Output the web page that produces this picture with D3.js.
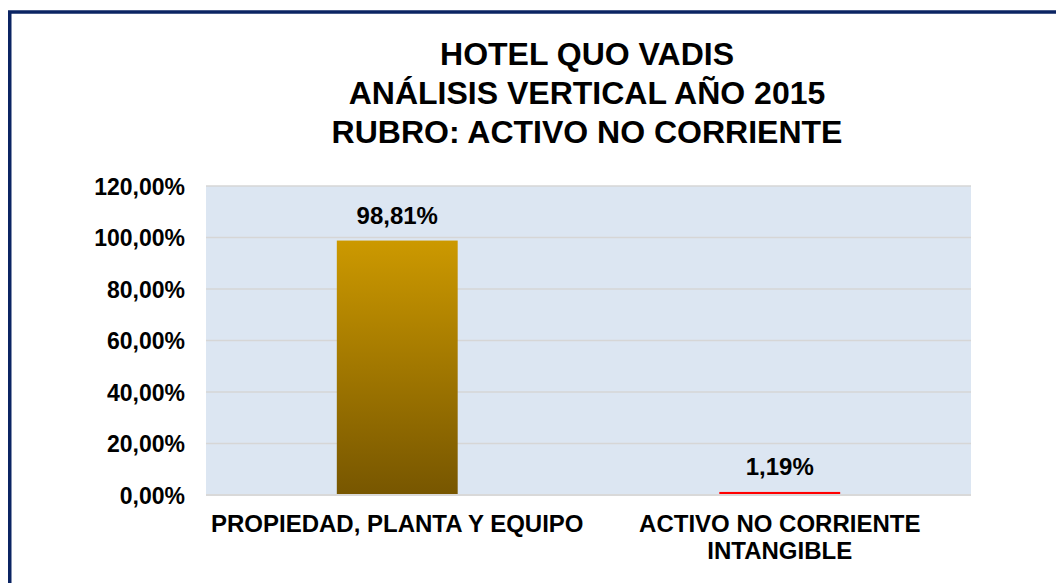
<!DOCTYPE html>
<html><head><meta charset="utf-8">
<script src="https://cdn.jsdelivr.net/npm/d3@7"></script>
<style>body{margin:0;background:#fff}svg{display:block}text{font-family:"Liberation Sans",Arial,sans-serif;font-weight:bold;fill:#000}</style>
</head><body><svg id="c" width="1056" height="583"></svg>
<script>
const titleLines = ["HOTEL QUO VADIS", "ANÁLISIS VERTICAL AÑO 2015", "RUBRO: ACTIVO NO CORRIENTE"];
const categories = ["PROPIEDAD, PLANTA Y EQUIPO", "ACTIVO NO CORRIENTE INTANGIBLE"];
const categoryLines = [["PROPIEDAD, PLANTA Y EQUIPO"], ["ACTIVO NO CORRIENTE", "INTANGIBLE"]];
const values = [98.81, 1.19];
const valueLabels = ["98,81%", "1,19%"];
const yTicks = [0, 20, 40, 60, 80, 100, 120];
const yTickLabels = ["0,00%", "20,00%", "40,00%", "60,00%", "80,00%", "100,00%", "120,00%"];

const svg = d3.select("#c");
const plot = {left: 206, right: 971, top: 186, bottom: 495};

// frame
svg.append("rect").attr("x", 9.75).attr("y", 12).attr("width", 1200).attr("height", 800)
  .attr("fill", "none").attr("stroke", "#0B2463").attr("stroke-width", 3.5);

// title
const t = svg.append("text").attr("text-anchor", "middle").style("font-size", "32px");
titleLines.forEach((l, i) => t.append("tspan").attr("x", 587).attr("y", 65 + i * 39).text(l));

const x = d3.scaleBand().domain(categories).range([plot.left, plot.right]).paddingInner(0).paddingOuter(0);
const y = d3.scaleLinear().domain([0, 120]).range([plot.bottom, plot.top]);
const barW = x.bandwidth() * 0.316;

svg.append("rect").attr("x", plot.left).attr("y", plot.top)
  .attr("width", plot.right - plot.left).attr("height", plot.bottom - plot.top).attr("fill", "#DCE6F2");

// grid
svg.append("g").selectAll("line").data(yTicks.filter(d => d > 0)).join("line")
  .attr("x1", plot.left).attr("x2", plot.right).attr("y1", d => y(d)).attr("y2", d => y(d))
  .attr("stroke", "#D6D6D6").attr("stroke-width", 1.5);

// y axis labels
const yAxis = d3.axisLeft(y).tickValues(yTicks).tickFormat((d, i) => yTickLabels[i]).tickSize(0).tickPadding(21);
const ga = svg.append("g").attr("transform", `translate(${plot.left},0)`).call(yAxis);
ga.select(".domain").remove();
ga.selectAll("text").style("font-size", "23px").style("font-family", "'Liberation Sans',Arial,sans-serif").style("font-weight", "bold").attr("fill", "#000").attr("dy", "0.36em");

// gradient
const defs = svg.append("defs");
const g = defs.append("linearGradient").attr("id", "gold").attr("x1", 0).attr("y1", 0).attr("x2", 0).attr("y2", 1);
g.append("stop").attr("offset", "0%").attr("stop-color", "#CC9900");
g.append("stop").attr("offset", "100%").attr("stop-color", "#775600");

const colors = ["url(#gold)", "#FF0000"];
svg.append("g").selectAll("rect").data(values).join("rect")
  .attr("x", (d, i) => x(categories[i]) + (x.bandwidth() - barW) / 2)
  .attr("y", d => y(d)).attr("width", barW).attr("height", d => y(0) - y(d))
  .attr("fill", (d, i) => colors[i]);

// bottom axis line
svg.append("line").attr("x1", plot.left).attr("x2", plot.right).attr("y1", plot.bottom).attr("y2", plot.bottom)
  .attr("stroke", "#D9D9D9").attr("stroke-width", 2);

// value labels
svg.append("g").selectAll("text").data(values).join("text")
  .attr("text-anchor", "middle").style("font-size", "24px")
  .attr("x", (d, i) => x(categories[i]) + x.bandwidth() / 2)
  .attr("y", d => y(d) - 17).text((d, i) => valueLabels[i]);

// category labels
categoryLines.forEach((lines, i) => {
  const tx = svg.append("text").attr("text-anchor", "middle").style("font-size", "24px");
  lines.forEach((l, j) => tx.append("tspan").attr("x", x(categories[i]) + x.bandwidth() / 2).attr("y", 532 + j * 27).text(l));
});
</script></body></html>
